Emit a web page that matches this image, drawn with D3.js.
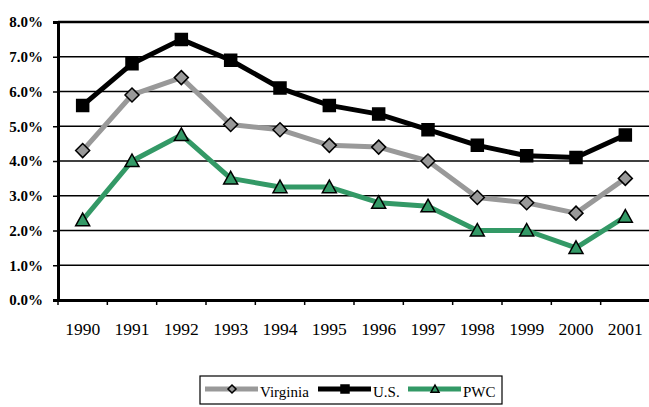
<!DOCTYPE html>
<html>
<head>
<meta charset="utf-8">
<script src="https://cdn.jsdelivr.net/npm/d3@7"></script>
<style>
  body { margin: 0; background: #fff; }
  svg { display: block; }
</style>
</head>
<body>
<svg id="svg" width="649" height="407"></svg>
<script>
"use strict";

var years = ["1990", "1991", "1992", "1993", "1994", "1995", "1996", "1997", "1998", "1999", "2000", "2001"];
var virginia = [4.3, 5.9, 6.4, 5.05, 4.9, 4.45, 4.4, 4.0, 2.95, 2.8, 2.5, 3.5];
var us = [5.6, 6.8, 7.5, 6.9, 6.1, 5.6, 5.35, 4.9, 4.45, 4.15, 4.1, 4.75];
var pwc = [2.3, 4.0, 4.75, 3.5, 3.25, 3.25, 2.8, 2.7, 2.0, 2.0, 1.5, 2.4];
var yTicks = [0, 1, 2, 3, 4, 5, 6, 7, 8];

var series = [
    { name: "Virginia", values: virginia, color: "#999999", symbol: "diamond" },
    { name: "U.S.", values: us, color: "#000000", symbol: "square" },
    { name: "PWC", values: pwc, color: "#339966", symbol: "triangle" }
];

const plotLeft = 58, plotRight = 650, plotTop = 22, plotBottom = 300;
const serif = "'Liberation Serif'";

var svg = d3.select("svg");

var x = d3.scaleBand().domain(years).range([plotLeft, plotRight]);
var y = d3.scaleLinear().domain([0, 8]).range([plotBottom, plotTop]);

// gridlines
svg.append("g")
    .selectAll("line")
    .data(yTicks.slice(1))
    .enter()
    .append("line")
        .attr("x1", plotLeft)
        .attr("x2", plotRight)
        .attr("y1", d => y(d))
        .attr("y2", d => y(d))
        .attr("stroke", "#000")
        .attr("stroke-width", d => d === 8 ? 2.5 : 1.6);

// y axis
var yAxis = svg.append("g")
    .attr("transform", "translate(" + plotLeft + ",0)")
    .call(d3.axisLeft(y).tickValues(yTicks).tickSize(5).tickPadding(10)
        .tickFormat(d => d.toFixed(1) + "%"));
yAxis.select(".domain").attr("stroke-width", 3);
yAxis.selectAll(".tick line").attr("stroke-width", 1.5);
yAxis.selectAll("text")
    .style("font-family", serif)
    .style("font-size", "15px")
    .style("font-weight", "bold")
    .attr("fill", "#000");

// x axis
var xAxis = svg.append("g")
    .attr("transform", "translate(0," + plotBottom + ")")
    .call(d3.axisBottom(x).tickSize(0).tickPadding(23));
xAxis.select(".domain").attr("stroke-width", 3);
xAxis.selectAll("text")
    .style("font-family", serif)
    .style("font-size", "17.5px")
    .attr("fill", "#000");
xAxis.append("g")
    .selectAll("line")
    .data(years)
    .enter()
    .append("line")
        .attr("x1", d => x(d))
        .attr("x2", d => x(d))
        .attr("y1", 0)
        .attr("y2", 5)
        .attr("stroke", "#000")
        .attr("stroke-width", 1.5);

function symbolPath(type, size) {
    var s = size / 2;
    if (type === "square") return "M" + (-s) + "," + (-s) + "h" + size + "v" + size + "h" + (-size) + "Z";
    if (type === "diamond") return "M0," + (-s) + "L" + s + ",0L0," + s + "L" + (-s) + ",0Z";
    return "M0," + (-s) + "L" + s + "," + (s * 0.8) + "L" + (-s) + "," + (s * 0.8) + "Z";
}

var line = d3.line()
    .x((d, i) => x(years[i]) + x.bandwidth() / 2)
    .y(d => y(d));

var g = svg.append("g");
series.forEach(function(s) {
    g.append("path")
        .attr("d", line(s.values))
        .attr("fill", "none")
        .attr("stroke", s.color)
        .attr("stroke-width", 5)
        .attr("stroke-linejoin", "round");
    g.append("g")
        .selectAll("path")
        .data(s.values)
        .enter()
        .append("path")
            .attr("transform", (d, i) => "translate(" + (x(years[i]) + x.bandwidth() / 2) + "," + y(d) + ")")
            .attr("d", symbolPath(s.symbol, s.symbol === "square" ? 12 : 14))
            .attr("fill", s.symbol === "square" ? "#000" : s.color)
            .attr("stroke", "#000")
            .attr("stroke-width", 1.5);
});

// legend
var legend = svg.append("g");
legend.append("rect")
    .attr("x", 200)
    .attr("y", 376)
    .attr("width", 302)
    .attr("height", 28)
    .attr("fill", "#fff")
    .attr("stroke", "#000")
    .attr("stroke-width", 1.2);

var legendX = [205, 318, 408];
series.forEach(function(s, i) {
    var lx = legendX[i];
    legend.append("line")
        .attr("x1", lx)
        .attr("x2", lx + 53)
        .attr("y1", 389)
        .attr("y2", 389)
        .attr("stroke", s.color)
        .attr("stroke-width", 5);
    legend.append("path")
        .attr("transform", "translate(" + (lx + 27) + ",389)")
        .attr("d", symbolPath(s.symbol, 8))
        .attr("fill", s.symbol === "square" ? "#000" : s.color)
        .attr("stroke", "#000")
        .attr("stroke-width", 1.5);
    legend.append("text")
        .attr("x", lx + 55)
        .attr("y", 397)
        .style("font-family", serif)
        .style("font-size", "15px")
        .attr("fill", "#000")
        .text(s.name);
});
</script>
</body>
</html>
